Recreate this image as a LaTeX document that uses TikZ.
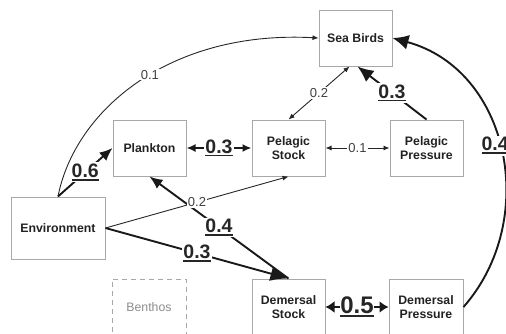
\documentclass[tikz,border=0pt]{standalone}
\usepackage{fontspec}
\setmainfont{Liberation Sans}
\usetikzlibrary{arrows.meta}
\newcommand{\ulnum}[1]{\setbox0\hbox{#1}\rlap{\rule[-3.2pt]{\wd0}{1.6pt}}\box0}
\definecolor{boxgray}{HTML}{A8A8A8}
\definecolor{txt}{HTML}{222222}
\tikzset{
  boxnode/.style={draw=boxgray, line width=1pt, minimum width=73pt, minimum height=56pt,
    inner sep=0pt, align=center, text=txt, font=\bfseries\fontsize{12.3}{14}\selectfont},
  thinedge/.style={line width=0.9pt, draw=black!85},
  thinhead/.style={-{Latex[length=6pt,width=5pt]}},
  thinboth/.style={{Latex[length=6pt,width=5pt]}-{Latex[length=6pt,width=5pt]}},
  boldedge/.style={line width=1.9pt, draw=black!90},
  thinlab/.style={fill=white, inner sep=1pt, text=black!75, font=\fontsize{13}{13}\selectfont},
  boldlab/.style={fill=white, inner sep=1.5pt, text=black!85, font=\bfseries\fontsize{19.5}{20}\selectfont},
}
\begin{document}
\begin{tikzpicture}[x=1pt,y=-1pt]
\useasboundingbox (0,0) rectangle (506,333);
% nodes
\node[boxnode] (sb) at (355.5,38) {Sea Birds};
\node[boxnode] (pl) at (149.5,148) {Plankton};
\node[boxnode] (ps) at (288.5,148) {Pelagic\\Stock};
\node[boxnode] (pp) at (426.5,148) {Pelagic\\Pressure};
\node[boxnode, minimum width=94pt, minimum height=62pt] (env) at (58,228) {Environment};
\node[boxnode, dashed, dash pattern=on 5pt off 4pt, text=black!45, font=\fontsize{12.3}{14}\selectfont, minimum width=74pt] (ben) at (149,307) {Benthos};
\node[boxnode] (ds) at (288.5,307) {Demersal\\Stock};
\node[boxnode, minimum width=74pt] (dp) at (426,307) {Demersal\\Pressure};
% thin edges
\draw[thinedge, thinhead] (env.north) .. controls (75,110) and (170,30) .. node[thinlab, pos=0.54] {0.1} (sb.west);
\draw[thinedge, thinboth] (ps.north) -- node[thinlab] {0.2} ([xshift=-6pt]sb.south);
\draw[thinedge, thinboth] (ps.east) -- node[thinlab] {0.1} (pp.west);
% bold edges
\draw[boldedge, -{Latex[length=13pt,width=11pt]}] (env.north) -- node[boldlab] {\ulnum{0.6}} (pl.west);
\draw[boldedge, {Latex[length=9pt,width=8pt]}-{Latex[length=9pt,width=8pt]}] (pl.east) -- node[boldlab] {\ulnum{0.3}} (ps.west);
\draw[boldedge, -{Latex[length=16pt,width=14pt]}] (pp.north) -- node[boldlab] {\ulnum{0.3}} ([xshift=2pt]sb.south);
\draw[boldedge, -{Latex[length=13pt,width=11pt]}] (ds.north) -- node[boldlab] {\ulnum{0.4}} (pl.south);
\draw[boldedge, -{Latex[length=18pt,width=15pt]}] (env.east) -- node[boldlab] {\ulnum{0.3}} (ds.north);
\draw[thinedge, thinhead] (env.east) -- node[thinlab] {0.2} (ps.south);
\draw[boldedge, {Latex[length=9pt,width=12pt]}-{Latex[length=9pt,width=12pt]}] (ds.east) -- node[boldlab, font=\bfseries\fontsize{24}{24}\selectfont, inner sep=0.5pt] {\ulnum{0.5}} (dp.west);
\draw[boldedge, -{Latex[length=16pt,width=15pt]}] (dp.east) .. controls (540,220) and (510,70) .. node[boldlab, pos=0.52, xshift=-4pt] {\ulnum{0.4}} (sb.east);
\end{tikzpicture}
\end{document}
